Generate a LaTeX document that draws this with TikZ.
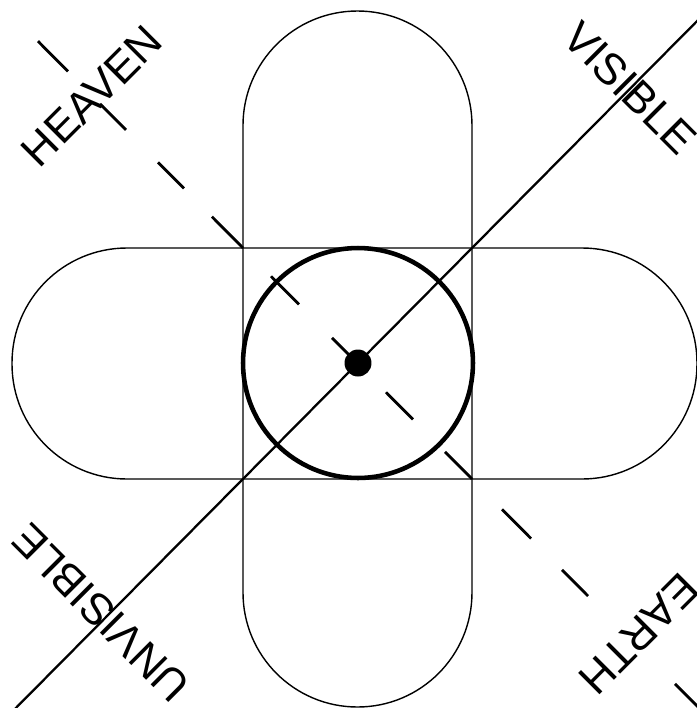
\documentclass[tikz,border=0pt]{standalone}
\usepackage{fontspec}
\setmainfont{Liberation Sans}
\begin{document}
\begin{tikzpicture}[x=0.02cm, y=-0.02cm,
    outline/.style={line width=0.8pt},
    dashseg/.style={line width=1.6pt},
    word/.style={inner sep=0pt, font=\fontsize{25}{30}\selectfont}]
  \useasboundingbox (0,0) rectangle (697,708);
  \clip (0,0) rectangle (697,708);

  % the cross: two stadiums
  \draw[outline, rounded corners=2.3cm] (12,248) rectangle (697,479);
  \draw[outline, rounded corners=2.29cm] (243,11) rectangle (472,707);

  \draw[line width=2.6pt] (358,363) circle[radius=2.3cm];
  \node[circle, fill=black, minimum size=0.54cm, inner sep=0pt] (dot) at (358,363) {};

  \draw[line width=1.3pt] (0,724) -- (710,8);
  \foreach \a/\b in {38/68, 100/126, 158/184, 212/243, 271/299, 332/358,
                     386/413, 445/472, 502/531, 562/588, 675/705}
    { \draw[dashseg] (\a,{248+(\a-243)*1.0087}) -- (\b,{248+(\b-243)*1.0087}); }

  \node[word, rotate=45]  (heaven)    at (92,96)   {HEAVEN};
  \node[word, rotate=-45] (visible)   at (630,88)  {VISIBLE};
  \node[word, rotate=135] (unvisible) at (101,613) {UNVISIBLE};
  \node[word, rotate=225] (earth)     at (639,634) {EARTH};
\end{tikzpicture}
\end{document}
